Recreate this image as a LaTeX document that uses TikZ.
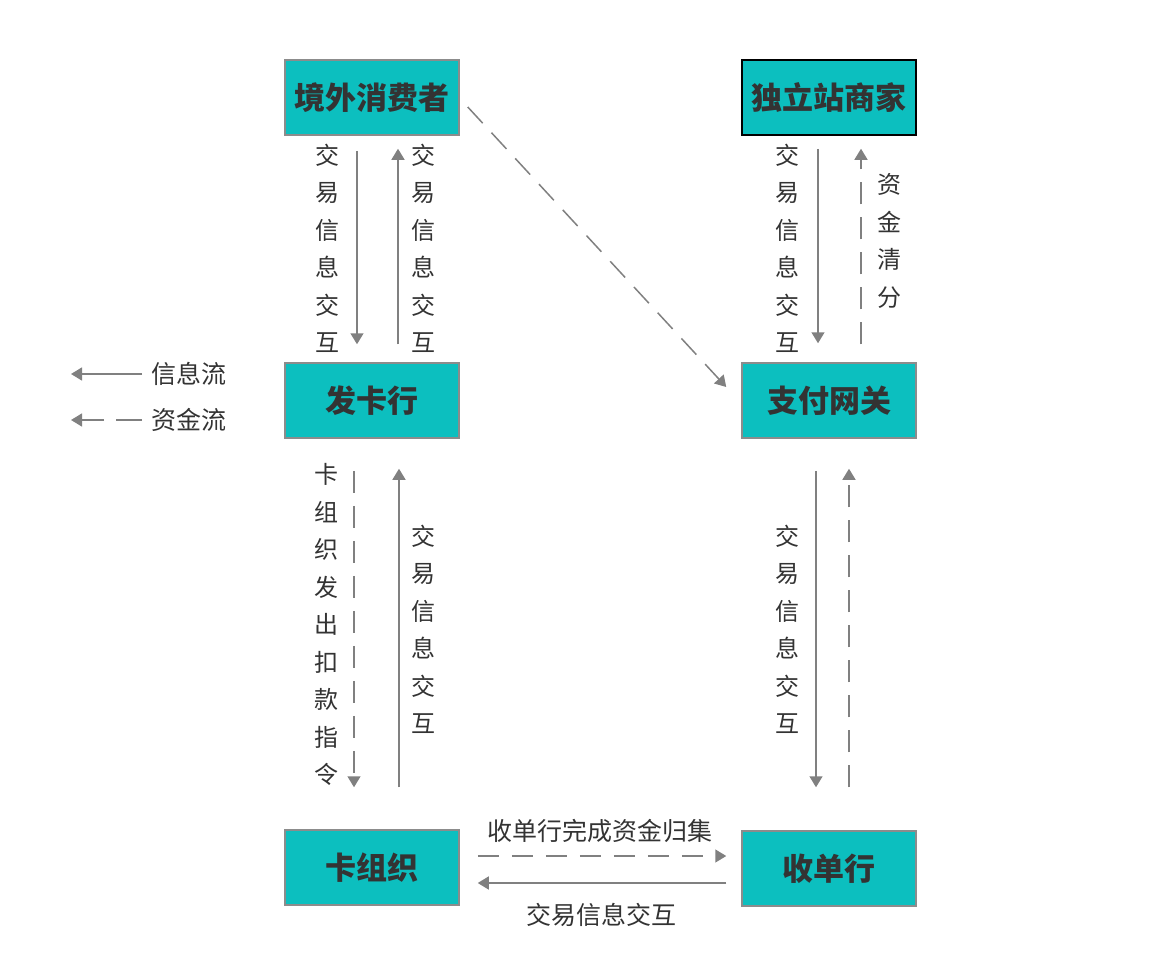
\documentclass[tikz,border=0pt]{standalone}
\usepackage{fontspec}
\setmainfont{Noto Sans CJK SC}
\usetikzlibrary{arrows.meta}
\definecolor{teal1}{HTML}{0CBFBF}
\definecolor{txt}{HTML}{333333}
\definecolor{arr}{HTML}{808080}
\definecolor{bord}{HTML}{8C8C8C}
\begin{document}
\begin{tikzpicture}[x=1pt,y=-1pt,
  box/.style={draw=bord,line width=1.5pt,fill=teal1,minimum width=174pt,minimum height=75pt,inner sep=0pt,
    font=\fontsize{31}{31}\selectfont\bfseries,text=txt},
  lab/.style={font=\fontsize{24}{37.5}\selectfont,text=txt,align=center,inner sep=0pt},
  hlab/.style={font=\fontsize{25}{25}\selectfont,text=txt,inner sep=0pt},
  conn/.style={draw=arr,line width=1.5pt,-{Triangle[length=11pt,width=13pt]}},
  dsh/.style={dash pattern=on 22pt off 13pt}]
\useasboundingbox (0,0) rectangle (1149,966);
\node[box] (c) at (372,97.5) {境外消费者};
\node[box,draw=black] (m) at (829,97.5) {独立站商家};
\node[box] (f) at (372,400.5) {发卡行};
\node[box] (g) at (829,400.5) {支付网关};
\node[box] (k) at (372,867.5) {卡组织};
\node[box] (s) at (829,868.5) {收单行};
% top left
\draw[conn] ([xshift=-15pt,yshift=-15pt]c.south) -- ([xshift=-15pt,yshift=18pt]f.north);
\draw[conn] ([xshift=26pt,yshift=18pt]f.north) -- ([xshift=26pt,yshift=-13pt]c.south);
\node[lab] (t1) at (327,248.5) {交\\易\\信\\息\\交\\互};
\node[lab] (t2) at (423,248.5) {交\\易\\信\\息\\交\\互};
% diagonal
\draw[conn,dsh] ([xshift=8pt,yshift=-9.5pt]c.east) -- ([xshift=-15pt,yshift=13.5pt]g.west);
% top right
\draw[conn] ([xshift=-11pt,yshift=-13pt]m.south) -- ([xshift=-11pt,yshift=19pt]g.north);
\draw[conn,dsh] ([xshift=32pt,yshift=18pt]g.north) -- ([xshift=32pt,yshift=-13pt]m.south);
\node[lab] (t3) at (787,248.5) {交\\易\\信\\息\\交\\互};
\node[lab] (t4) at (889,241) {资\\金\\清\\分};
% middle left
\draw[conn,dsh] ([xshift=-18pt,yshift=-32pt]f.south) -- ([xshift=-18pt,yshift=42pt]k.north);
\draw[conn] ([xshift=27pt,yshift=42pt]k.north) -- ([xshift=27pt,yshift=-30pt]f.south);
\node[lab] (t5) at (326,624.5) {卡\\组\\织\\发\\出\\扣\\款\\指\\令};
\node[lab] (t6) at (423,629.5) {交\\易\\信\\息\\交\\互};
% middle right
\draw[conn] ([xshift=-13pt,yshift=-32pt]g.south) -- ([xshift=-13pt,yshift=43pt]s.north);
\draw[conn,dsh] ([xshift=20pt,yshift=43pt]s.north) -- ([xshift=20pt,yshift=-30pt]g.south);
\node[lab] (t7) at (787,629.5) {交\\易\\信\\息\\交\\互};
% bottom
\draw[conn,dash pattern=on 21pt off 13pt] ([xshift=18pt,yshift=11.5pt]k.east) -- ([xshift=-15pt,yshift=12.5pt]s.west);
\draw[conn] ([xshift=-15pt,yshift=-14.5pt]s.west) -- ([xshift=18pt,yshift=-15.5pt]k.east);
\node[hlab] (t8) at (600,831) {收单行完成资金归集};
\node[hlab] (t9) at (601,915) {交易信息交互};
% legend
\coordinate (l1a) at (142,374);
\coordinate (l1b) at (71,374);
\coordinate (l2a) at (142,420);
\coordinate (l2b) at (71,420);
\draw[conn] (l1a) -- (l1b);
\draw[conn,dash pattern=on 26pt off 12pt] (l2a) -- (l2b);
\node[hlab] (t10) at (189,374) {信息流};
\node[hlab] (t11) at (189,420) {资金流};
\end{tikzpicture}
\end{document}
